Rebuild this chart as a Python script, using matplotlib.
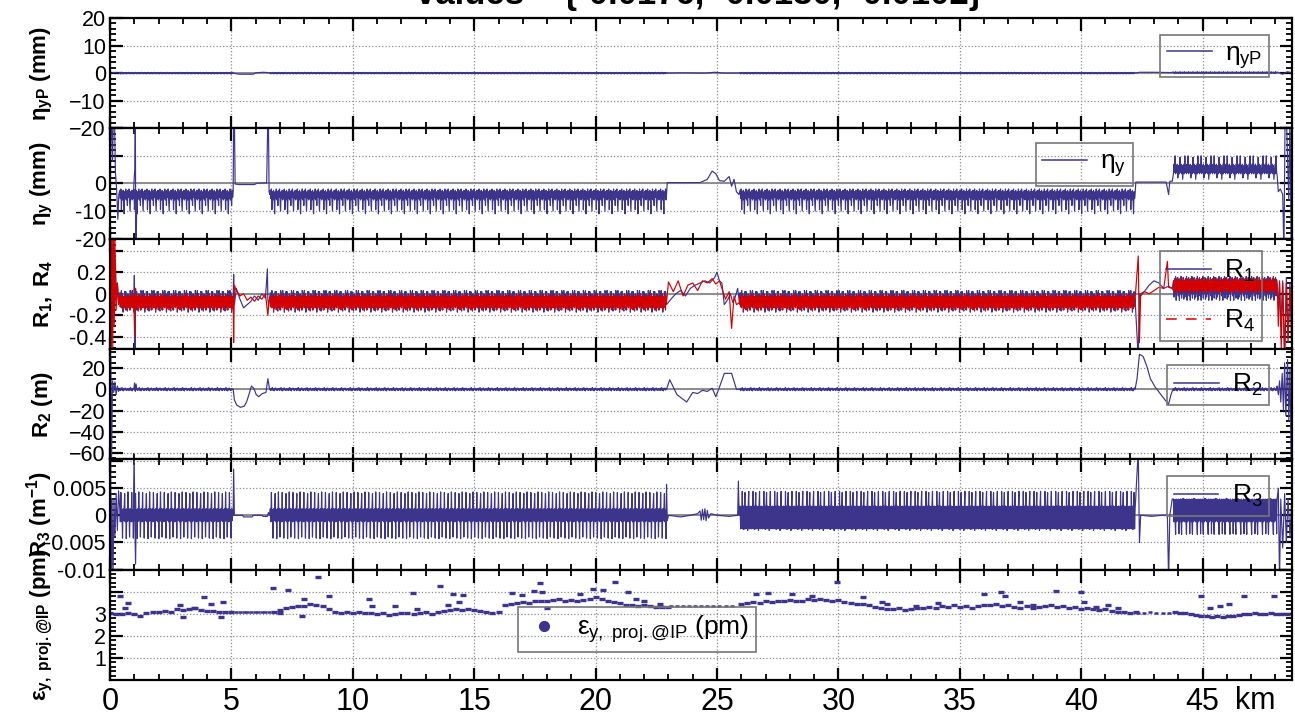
import numpy as np
import matplotlib
matplotlib.use('Agg')
import matplotlib.pyplot as plt
from matplotlib.lines import Line2D
from matplotlib.ticker import MultipleLocator, AutoMinorLocator

plt.rcParams['font.family'] = ['Liberation Sans', 'DejaVu Sans']
plt.rcParams['mathtext.fontset'] = 'custom'
plt.rcParams['mathtext.rm'] = 'Liberation Sans'
plt.rcParams['mathtext.it'] = 'Liberation Sans'
plt.rcParams['mathtext.bf'] = 'Liberation Sans:bold'

BLUE = '#3d348b'
RED = '#d40000'

# lattice layout (km): four arcs, with IR / straight sections between them
arc_start = [0.4, 6.6, 25.95, 43.8]
arc_end = [5.05, 22.9, 42.2, 48.05]
pts_per_km = 45

# ---- eta_yP (mm)
etap_cell = [0.2, -0.3, 0.1, -0.15, 0.3, -0.2, 0.1, -0.3, 0.2, -0.1, 0.25, -0.25]
etap_cell4 = [0.4, -0.1, 0.3, 0.0, 0.5, -0.1, 0.3, 0.1]
etap_sections = [
    ([0.0, 0.2, 0.38], [0.0, 0.2, 0.0]),
    ([5.07, 5.3, 5.9, 6.0, 6.3, 6.5, 6.58], [0.0, -0.4, -0.4, 0.1, 0.3, 0.2, 0.0]),
    ([22.95, 23.5, 24.5, 24.9, 25.3, 25.9], [0.0, 0.1, 0.0, 0.3, 0.0, 0.0]),
    ([42.25, 42.4, 43.0, 43.7], [0.0, 0.3, 0.3, 0.2]),
    ([48.1, 48.3, 48.5, 48.7], [0.3, -0.4, 0.5, 0.0]),
]

# ---- eta_y (mm)
etay_cell = [-2.5, -5.5, -2, -9.5, -3, -6, -2.5, -5, -11, -3, -5.5, -2, -6, -3, -8, -2.5,
             -5, -2, -6, -10, -3, -5.5, -2.5, -6]
etay_cell4 = [3.5, 7, 4, 10, 3.5, 6.5, 4, 7, 2, 4, 6.5, 3.5, 9.5, 4, 7, 3.5, 6.5, 1.5, 4, 7,
              3.5, 10, 4, 6.5]
etay_sections = [
    ([0.0, 0.03, 0.06, 0.1, 0.14, 0.18, 0.22, 0.27, 0.32, 0.36],
     [-25, 25, 25, 8, 25, 25, 4, -2, -13, -4]),
    ([5.07, 5.09, 5.12, 5.15, 5.3, 5.5, 5.95, 6.05, 6.45, 6.5, 6.52, 6.55, 6.58],
     [-3, 25, 25, -0.2, -0.4, -0.4, -0.4, 0.1, 0.2, 25, 25, -3, -4]),
    ([22.92, 22.95, 23.5, 24.3, 24.6, 24.8, 24.95, 25.1, 25.3, 25.5, 25.6, 25.7, 25.8, 25.9],
     [-4, 0.3, 0.3, 0.3, 1.5, 4.5, 3.5, 1, 0.8, 2.5, -1, 1.5, -3, -4]),
    ([42.22, 42.25, 43.5, 43.6, 43.65, 43.75], [-4, 0.5, 0.5, -4, 0.8, 0.8]),
    ([48.07, 48.12, 48.2, 48.3, 48.35, 48.4, 48.45, 48.55, 48.6, 48.65, 48.7, 48.8],
     [3, -3, -2, -4, -25, 25, 25, -6, 25, -25, -25, -25]),
]
etay_kick = ([0.96, 1.0, 1.02, 1.04, 1.06, 1.08, 1.1], [-4, 3, 5, 25, -25, -20, -4])

# ---- R1 (blue) and R4 (red)
r1_cell = [0.01, -0.12, -0.02, 0.03, -0.11, 0.0, -0.17, -0.03, -0.13, 0.02, -0.11, 0.02,
           -0.03, -0.14, -0.16, 0.0, -0.12, -0.02, -0.15, 0.03]
r1_cell4 = [0.12, -0.03, 0.14, 0.0, 0.16, -0.06, 0.12, 0.02, 0.15, -0.02, 0.13, -0.06, 0.14, 0.0,
            0.16, -0.04, 0.12, 0.0, 0.15, -0.05]
r1_sections = [
    ([0.0, 0.03, 0.06, 0.1, 0.14, 0.18, 0.22, 0.26, 0.3, 0.35],
     [0.6, -0.6, 0.6, -0.3, 0.4, -0.2, 0.3, -0.1, 0.1, -0.05]),
    ([5.07, 5.09, 5.12, 5.2, 5.35, 5.5, 5.65, 5.8, 5.95, 6.1, 6.25, 6.4, 6.48, 6.5, 6.53, 6.57],
     [-0.05, 0.18, -0.1, 0.05, -0.05, -0.13, -0.1, -0.07, -0.02, -0.06, 0.0, -0.04, 0.23, -0.05, -0.12, -0.05]),
    ([22.92, 23.1, 23.3, 23.5, 23.7, 23.9, 24.1, 24.3, 24.5, 24.7, 24.9, 25.0, 25.1, 25.2, 25.3,
      25.45, 25.55, 25.65, 25.75, 25.85, 25.93],
     [-0.1, -0.05, 0.0, 0.03, -0.02, 0.05, 0.08, 0.1, 0.12, 0.1, 0.15, 0.2, 0.12, 0.1, -0.1,
      -0.05, 0.0, -0.08, -0.03, 0.05, -0.1]),
    ([42.22, 42.35, 42.4, 42.45, 42.6, 42.8, 43.0, 43.2, 43.4, 43.6, 43.75],
     [-0.05, -0.6, 0.0, -0.02, 0.02, 0.08, 0.12, 0.1, 0.05, 0.07, 0.05]),
    ([48.08, 48.12, 48.17, 48.22, 48.3, 48.38, 48.45, 48.52, 48.6, 48.68, 48.8],
     [0.08, -0.15, 0.1, -0.3, 0.12, -0.6, 0.15, -0.4, 0.1, -0.6, -0.2]),
]
r1_kick = ([0.98, 1.0, 1.03, 1.05, 1.08], [-0.05, 0.17, -0.6, 0.05, -0.08])

r4_cell = [-0.02, -0.12, -0.03, -0.13, -0.01, -0.1, -0.03, -0.14, -0.02, -0.12, -0.04, -0.15,
           -0.02, -0.11, -0.03, -0.13, -0.01, -0.12, -0.03, -0.15]
r4_cell4 = [0.03, 0.12, 0.02, 0.11, 0.04, 0.14, 0.03, 0.11, 0.01, 0.13, 0.04, 0.12, 0.02, 0.11,
            0.05, 0.15, 0.03, 0.11, 0.02, 0.13]
r4_sections = [
    ([0.0, 0.02, 0.05, 0.08, 0.11, 0.14, 0.17, 0.2, 0.25, 0.3, 0.35],
     [-0.6, 0.6, -0.6, 0.6, -0.5, 0.6, -0.3, 0.5, -0.15, 0.1, -0.1]),
    ([5.07, 5.09, 5.12, 5.2, 5.35, 5.5, 5.65, 5.8, 5.95, 6.1, 6.25, 6.4, 6.5, 6.54, 6.57],
     [-0.05, -0.45, 0.08, 0.03, -0.02, 0.0, -0.06, -0.03, -0.07, -0.02, -0.05, 0.0, -0.2, -0.08, -0.05]),
    ([22.92, 23.0, 23.2, 23.4, 23.6, 23.8, 24.0, 24.2, 24.4, 24.6, 24.8, 24.95, 25.1, 25.2, 25.35,
      25.5, 25.6, 25.7, 25.8, 25.93],
     [-0.08, 0.11, 0.02, 0.12, -0.02, 0.08, 0.1, 0.03, 0.12, 0.1, 0.14, 0.09, 0.12, 0.05, -0.05,
      0.02, -0.32, -0.02, -0.1, -0.08]),
    ([42.22, 42.35, 42.4, 42.45, 42.6, 42.8, 43.0, 43.2, 43.4, 43.55, 43.6, 43.75],
     [-0.05, 0.35, -0.45, 0.0, 0.02, 0.0, 0.03, 0.06, 0.05, 0.3, 0.06, 0.05]),
    ([48.08, 48.12, 48.17, 48.24, 48.3, 48.38, 48.45, 48.52, 48.6, 48.68, 48.8],
     [0.05, -0.3, 0.12, -0.5, 0.1, -0.6, 0.1, -0.45, 0.05, -0.3, -0.2]),
]
r4_kick = ([0.98, 1.01, 1.04, 1.07], [-0.05, -0.4, 0.05, -0.05])

# ---- R2 (m)
r2_cell = [0.5, -1.2, 1.0, -0.5, 1.5, -1.0, 0.3, -1.5, 0.8, -0.3, 1.2, -0.8, 0.2, -1.1, 0.6, -0.4]
r2_sections = [
    ([0.0, 0.03, 0.06, 0.1, 0.15, 0.2, 0.25, 0.3, 0.35], [-70, 30, -70, 8, -3, 7, -5, 3, -2]),
    ([5.07, 5.12, 5.22, 5.37, 5.52, 5.62, 5.72, 5.82, 5.92, 6.02, 6.12, 6.27, 6.42, 6.5, 6.57],
     [0, -10, -15, -17, -16, -12, -5, 3, 1, -5, -7, -4, -3, 10, 0]),
    ([22.92, 23.05, 23.35, 23.75, 24.0, 24.2, 24.4, 24.6, 24.8, 24.95, 25.1, 25.3, 25.6, 25.8, 25.93],
     [0, 9, -5, -12, -3, -4, -1, -2, 1, -7, 2, 15, 15, 0, 0]),
    ([42.22, 42.3, 42.4, 42.55, 42.7, 42.85, 43.05, 43.25, 43.45, 43.6, 43.7, 43.78],
     [0, 10, 33, 31, 22, 10, 2, -4, -10, -14, -5, 0]),
    ([48.07, 48.12, 48.17, 48.22, 48.28, 48.33, 48.38, 48.43, 48.5, 48.55, 48.6, 48.65, 48.7, 48.8],
     [3, -5, 8, -12, 15, -20, 25, -25, 28, -30, 20, -70, 10, -70]),
]
r2_kick = ([0.98, 1.01, 1.04, 1.07, 1.1], [0, 6, -2, 5, 0])

# ---- R3 (1/m)
r3_cell = [0.0012, -0.0012, 0.0042, -0.0011, 0.001, -0.0042, 0.0012, -0.001, 0.0011, 0.004,
           -0.0012, 0.001, -0.0043, 0.0012, -0.0011, 0.0043, -0.001, 0.0012, -0.004, 0.0011]
r3_cell3 = [0.0017, -0.0025, 0.0016, -0.0024, 0.0044, -0.0025, 0.0017, -0.0026, 0.0015, 0.0042,
            -0.0025, 0.0017, -0.0024, 0.0016, -0.0028, 0.0017, 0.0044, -0.0025, 0.0016, -0.0024]
r3_cell4 = [0.003, -0.0012, 0.0029, -0.0011, -0.0035, 0.003, -0.0012, 0.0028, -0.001, 0.003,
            -0.0034, 0.0029, -0.0012, 0.003, -0.0011, -0.0035, 0.003, -0.0012, 0.0031, -0.001]
r3_sections = [
    ([0.0, 0.02, 0.05, 0.08, 0.12, 0.16, 0.2, 0.25, 0.3, 0.35],
     [-0.012, 0.012, -0.012, 0.003, -0.012, 0.003, -0.004, 0.004, -0.0028, 0.0045]),
    ([5.07, 5.09, 5.12, 5.2, 5.45, 5.5, 5.85, 5.9, 6.25, 6.3, 6.48, 6.52, 6.57],
     [0.0, 0.0085, 0.0, 0.0, 0.0, -0.0003, -0.0003, 0.0, 0.0, -0.0002, -0.0002, 0.0005, 0.0]),
    ([22.92, 22.95, 23.0, 23.5, 23.9, 24.2, 24.3, 24.35, 24.4, 24.45, 24.5, 24.55, 24.6, 24.65,
      24.75, 25.0, 25.5, 25.85, 25.88, 25.91, 25.93],
     [0.0057, -0.001, 0.0, -0.0003, 0.0, 0.0003, 0.0008, -0.0009, 0.0011, -0.0008, 0.0012, -0.001,
      0.0009, -0.0005, 0.0003, 0.0, -0.0002, 0.0, 0.0063, 0.0, 0.001]),
    ([42.22, 42.35, 42.4, 42.45, 42.5, 42.9, 43.3, 43.55, 43.6, 43.65, 43.75],
     [0.001, 0.012, -0.005, 0.0, 0.0, -0.0002, 0.0, 0.0, -0.012, 0.0, 0.003]),
    ([48.07, 48.12, 48.17, 48.22, 48.3, 48.38, 48.45, 48.52, 48.6, 48.68, 48.8],
     [0.003, 0.005, -0.012, 0.003, -0.006, 0.004, -0.005, 0.003, -0.004, 0.0035, -0.005]),
]
r3_kick = ([0.96, 0.99, 1.02, 1.05, 1.08], [0.0, 0.012, -0.001, -0.009, 0.001])

# ---- projected vertical emittance at IP (pm), one value per sample in each arc
eps_arc_start = [0.0, 6.75, 26.0, 43.85]
eps_arc_step = [0.25, 0.25, 0.25, 0.22]
eps_arc1 = [3.02, 2.98, 3.0, 3.04, 2.97, 2.9, 3.02, 3.06, 3.1, 3.14, 3.1, 3.2, 3.16, 3.22, 3.25,
            3.18, 3.14, 3.12, 3.08, 3.1, 3.06]
eps_arc2 = [3.1, 3.18, 3.25, 3.3, 3.36, 3.34, 3.44, 3.42, 3.36, 3.22, 3.08, 3.05,
            3.1, 3.04, 3.06, 3.02, 3.05, 2.98, 3.04, 2.96, 2.98, 3.05, 3.02, 2.97, 3.04, 3.06, 3.0, 3.08,
            3.12, 3.16, 3.2, 3.18, 3.22, 3.16, 3.12, 3.1, 3.04, 3.08,
            3.38, 3.46, 3.5, 3.55, 3.5, 3.58, 3.6, 3.56, 3.62, 3.66, 3.6, 3.64, 3.56, 3.62,
            3.68, 3.74, 3.66, 3.6, 3.54, 3.5, 3.42, 3.4, 3.36, 3.38, 3.34, 3.32, 3.3, 3.32]
eps_arc3 = [3.45, 3.5, 3.54, 3.5, 3.56, 3.52, 3.6, 3.58, 3.62, 3.56, 3.6, 3.66, 3.62, 3.68, 3.64, 3.6,
            3.62, 3.55, 3.5, 3.44, 3.46, 3.38, 3.3, 3.26, 3.22, 3.2, 3.24, 3.18, 3.22, 3.28, 3.24, 3.3,
            3.26, 3.34, 3.3, 3.38, 3.32, 3.36, 3.28, 3.34, 3.42, 3.38, 3.44, 3.36, 3.4, 3.32, 3.28, 3.34,
            3.24, 3.3, 3.36, 3.38, 3.32, 3.36, 3.28, 3.3, 3.22, 3.26, 3.2, 3.16, 3.22, 3.14, 3.1, 3.08,
            3.05, 3.06]
eps_arc4 = [3.06, 3.02, 3.04, 2.98, 2.95, 2.92, 2.88, 2.86, 2.9, 2.84, 2.88, 2.92, 2.96, 2.98, 3.0,
            3.02, 2.98, 3.0, 3.02, 3.0, 2.98, 3.0]
eps_str_start = [5.2, 23.1, 42.35]
eps_str_step = [0.15, 0.25, 0.25]
eps_str = [[3.08, 3.08, 3.09, 3.08, 3.08, 3.09, 3.08, 3.08, 3.09, 3.08],
           [3.35, 3.35, 3.36, 3.35, 3.34, 3.35, 3.35, 3.36, 3.35, 3.35, 3.34],
           [3.05, 3.05, 3.06, 3.05, 3.05, 3.05]]
eps_out_x = [0.41, 0.62, 0.75, 2.9, 3.0, 3.45, 3.86, 4.17, 4.55, 4.65,
             6.7, 7.0, 7.33, 7.9, 7.97, 8.57, 9.0,
             10.66, 10.8, 11.75, 12.48, 12.63, 13.58, 13.9, 14.13, 14.37, 14.53,
             16.55, 16.98, 17.46, 17.69, 17.8, 18.0, 19.35, 19.9, 20.3, 20.78,
             21.33, 21.65, 22.0, 22.67,
             26.6, 27.1, 28.1, 28.9, 29.95,
             31.0, 31.8, 32.0, 33.2, 34.1,
             36.0, 36.7, 36.85, 37.5, 38.0, 38.95,
             40.0, 40.1, 40.6, 41.1, 41.5,
             44.95, 45.3, 45.7, 46.1, 46.7, 47.95]
eps_out_y = [3.82, 3.25, 3.48, 3.41, 2.84, 3.25, 3.75, 3.44, 2.86, 3.52,
             4.16, 3.03, 4.08, 2.9, 3.67, 4.66, 3.82,
             3.67, 3.36, 3.36, 3.93, 3.21, 4.25, 3.39, 3.9, 3.55, 3.85,
             3.92, 3.85, 4.05, 4.4, 3.98, 3.26, 3.9, 4.13, 4.08, 4.45,
             3.98, 3.67, 3.59, 3.44,
             3.9, 3.95, 3.9, 3.82, 4.46,
             3.78, 3.52, 3.44, 3.36, 3.48,
             3.9, 3.97, 3.82, 3.52, 3.4, 4.05,
             3.97, 3.52, 3.32, 3.4, 3.28,
             3.82, 3.28, 3.36, 3.44, 3.82, 3.8]


def track(cells, sections):
    """Join the IR/straight sections with the repeating arc cells."""
    xs, ys = [], []
    for k in range(5):
        sx, sy = sections[k]
        xs.append(np.asarray(sx, float))
        ys.append(np.asarray(sy, float))
        if k < 4:
            n = int(round((arc_end[k] - arc_start[k]) * pts_per_km))
            xs.append(np.linspace(arc_start[k], arc_end[k], n))
            ys.append(np.resize(np.asarray(cells[k], float), n))
    return np.concatenate(xs), np.concatenate(ys)


def samples(starts, steps, values):
    xs = [s + d * np.arange(len(v)) for s, d, v in zip(starts, steps, values)]
    return np.concatenate(xs), np.concatenate([np.asarray(v, float) for v in values])


fig, axes = plt.subplots(6, 1, sharex=True, figsize=(12.95, 7.17), dpi=100)
fig.subplots_adjust(left=0.085, right=0.998, top=0.975, bottom=0.0516, hspace=0)
ax1, ax2, ax3, ax4, ax5, ax6 = axes

lw = 0.85
x, y = track([etap_cell] * 3 + [etap_cell4], etap_sections)
ax1.plot(x, y, color=BLUE, lw=lw)

x, y = track([etay_cell] * 3 + [etay_cell4], etay_sections)
ax2.plot(x, y, color=BLUE, lw=lw)
ax2.plot(*etay_kick, color=BLUE, lw=lw)

x, y = track([r1_cell] * 3 + [r1_cell4], r1_sections)
ax3.plot(x, y, color=BLUE, lw=lw)
ax3.plot(*r1_kick, color=BLUE, lw=lw)
x, y = track([r4_cell] * 3 + [r4_cell4], r4_sections)
ax3.plot(x, y, color=RED, lw=lw)
ax3.plot(*r4_kick, color=RED, lw=lw)

x, y = track([r2_cell] * 4, r2_sections)
ax4.plot(x, y, color=BLUE, lw=lw)
ax4.plot(*r2_kick, color=BLUE, lw=lw)

x, y = track([r3_cell, r3_cell, r3_cell3, r3_cell4], r3_sections)
ax5.plot(x, y, color=BLUE, lw=lw)
ax5.plot(*r3_kick, color=BLUE, lw=lw)

x, y = samples(eps_arc_start, eps_arc_step, [eps_arc1, eps_arc2, eps_arc3, eps_arc4])
ax6.plot(x, y, ls='none', marker='_', ms=5, mew=2.4, color=BLUE)
x, y = samples(eps_str_start, eps_str_step, eps_str)
ax6.plot(x, y, ls='none', marker='_', ms=3, mew=1.8, color=BLUE)
ax6.plot(eps_out_x, eps_out_y, ls='none', marker='_', ms=5, mew=2.4, color=BLUE)

for ax in (ax1, ax2, ax3, ax4, ax5):
    ax.axhline(0, color='#7a7a7a', lw=1.2, zorder=0)

# axis ranges and ticks
ax1.set_ylim(-20, 20)
ax1.set_yticks([-20, -10, 0, 10, 20])
ax2.set_ylim(-20, 20)
ax2.set_yticks([-20, -10, 0, 10, 20], ['-20', '-10', '0', '', ''])
ax3.set_ylim(-0.51, 0.51)
ax3.set_yticks([-0.4, -0.2, 0, 0.2, 0.4], ['-0.4', '-0.2', '0', '0.2', ''])
ax4.set_ylim(-66, 38)
ax4.set_yticks([-60, -40, -20, 0, 20])
ax5.set_ylim(-0.01, 0.0103)
ax5.set_yticks([-0.01, -0.005, 0, 0.005, 0.01], ['-0.01', '-0.005', '0', '0.005', ''])
ax6.set_ylim(0, 5)
ax6.set_yticks([1, 2, 3, 4, 5], ['1', '2', '3', '', ''])

minors = [5, 5, 4, 4, 5, 5]
for ax, m in zip(axes, minors):
    ax.set_xlim(0, 48.7)
    ax.xaxis.set_major_locator(MultipleLocator(5))
    ax.xaxis.set_minor_locator(MultipleLocator(1))
    ax.yaxis.set_minor_locator(AutoMinorLocator(m))
    ax.grid(True, which='major', ls=':', color='#8c8c8c', lw=0.9)
    ax.tick_params(which='both', direction='in', top=True, right=True, labelsize=15.5, pad=3)
    ax.tick_params(which='major', length=9, width=1.6)
    ax.tick_params(which='minor', length=4, width=1.3)
    for s in ax.spines.values():
        s.set_linewidth(1.6)
    ax.yaxis.set_label_coords(-0.047, 0.5)

ax6.tick_params(axis='x', labelsize=22, pad=5)
ax6.text(47.15, -0.055, 'km', transform=ax6.get_xaxis_transform(), ha='center', va='top', fontsize=22)

ylabel_kw = dict(fontsize=16)
ax1.set_ylabel(r'$\mathbf{\eta_{yP}\ (mm)}$', **ylabel_kw)
ax2.set_ylabel(r'$\mathbf{\eta_{y}\ (mm)}$', **ylabel_kw)
ax3.set_ylabel(r'$\mathbf{R_1,\ R_4}$', **ylabel_kw)
ax4.set_ylabel(r'$\mathbf{R_2\ (m)}$', **ylabel_kw)
ax5.set_ylabel(r'$\mathbf{R_3\ (m^{-1})}$', **ylabel_kw)
ax6.set_ylabel(r'$\mathbf{\varepsilon_{y,\ proj.@IP}\ (pm)}$', **ylabel_kw)

leg_kw = dict(loc='upper right', fontsize=19, fancybox=False, edgecolor='#777777',
              facecolor='none', framealpha=1, borderaxespad=0, handlelength=1.7,
              borderpad=0.25, handletextpad=0.5)


def add_legend(ax, handles, labels, anchor, **kw):
    opts = dict(leg_kw)
    opts.update(kw)
    leg = ax.legend(handles, labels, bbox_to_anchor=anchor, **opts)
    leg.get_frame().set_linewidth(1.2)
    return leg


blue_h = Line2D([], [], color=BLUE, lw=1.1)
add_legend(ax1, [blue_h], [r'$\eta_{yP}$'], (0.98, 0.845))
add_legend(ax2, [blue_h], [r'$\eta_{y}$'], (0.865, 0.865))
red_h = Line2D([], [], color=RED, lw=1.1, ls=(0, (7, 6)))
add_legend(ax3, [blue_h, red_h], [r'$R_1$', r'$R_4$'], (0.974, 0.884), labelspacing=0.9)
add_legend(ax4, [blue_h], [r'$R_2$'], (0.98, 0.853))
add_legend(ax5, [blue_h], [r'$R_3$'], (0.98, 0.847))
dot_h = Line2D([], [], color=BLUE, ls='none', marker='o', ms=7)
add_legend(ax6, [dot_h], [r'$\varepsilon_{y,\ proj.@IP}$ (pm)'], (0.345, 0.66), loc='upper left',
           handlelength=1.5)

fig.text(0.54, 1 - 4 / 717, 'values = {-0.0176, -0.0130, -0.0102}', ha='center', va='baseline',
         fontsize=25, fontweight='bold')

fig.savefig('out.png', dpi=100)
